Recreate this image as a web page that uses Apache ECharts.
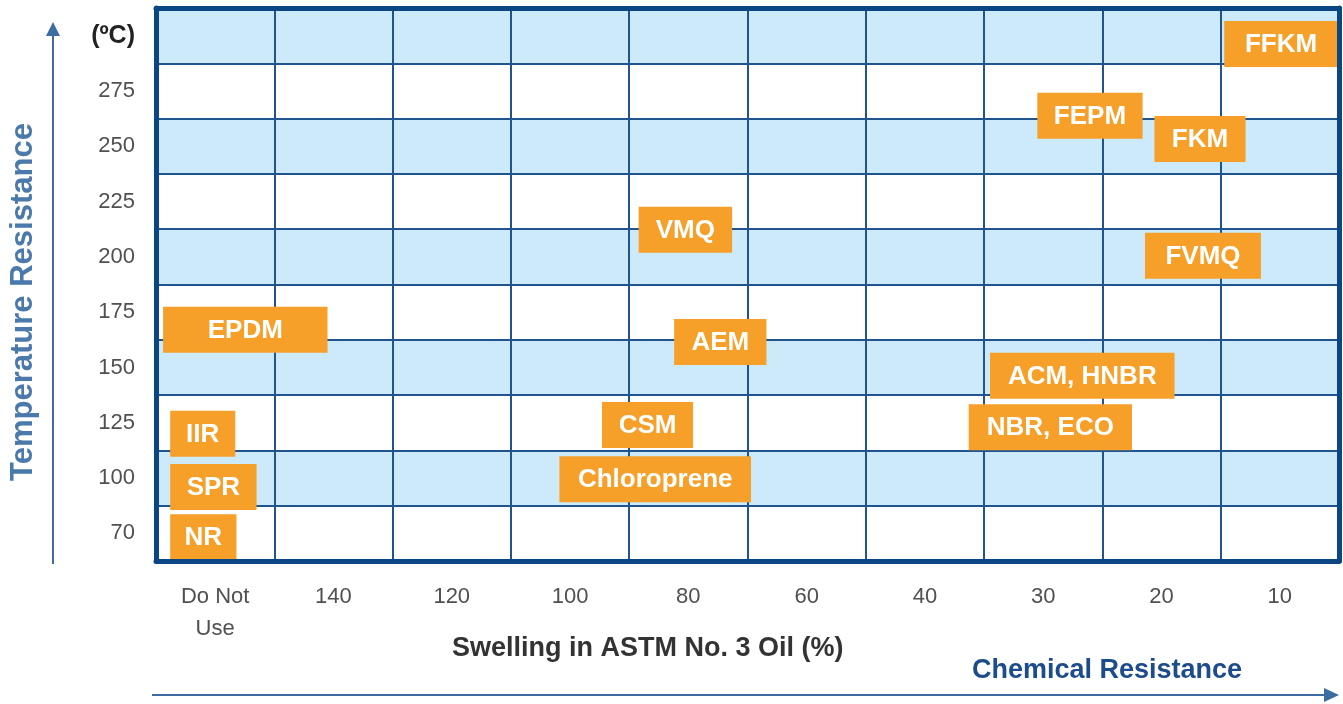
<!DOCTYPE html>
<html>
<head>
<meta charset="utf-8">
<title>Elastomer temperature vs chemical resistance</title>
<script src="https://cdn.jsdelivr.net/npm/echarts@6/dist/echarts.min.js"></script>
<style>
  html, body { margin: 0; padding: 0; background: #fff; }
  #chart { width: 1343px; height: 704px; }
</style>
</head>
<body>
<div id="chart"></div>
<script>
// column labels (swelling %), left to right
const swellLabels = ['Do Not\nUse', '140', '120', '100', '80', '60', '40', '30', '20', '10']
// row labels (temperature), bottom to top
const tempLabels = ['70', '100', '125', '150', '175', '200', '225', '250', '275', '(ºC)']

// materials, placed in column / row units of the grid above
const materials = ['FFKM', 'FEPM', 'FKM', 'FVMQ', 'VMQ', 'AEM', 'CSM', 'Chloroprene',
  'ACM, HNBR', 'NBR, ECO', 'EPDM', 'IIR', 'SPR', 'NR']
const swellFrom = [9.03, 7.45, 8.44, 8.36, 4.08, 4.38, 3.77, 3.41, 7.05, 6.87, 0.06, 0.12, 0.12, 0.12]
const swellTo = [9.99, 8.34, 9.21, 9.34, 4.87, 5.16, 4.54, 5.03, 8.61, 8.25, 1.45, 0.67, 0.85, 0.68]
const tempLevel = [9.35, 8.05, 7.63, 5.52, 5.99, 3.96, 2.46, 1.48, 3.35, 2.42, 4.18, 2.30, 1.34, 0.43]

const FONT = "'Liberation Sans', Arial, sans-serif"
const gridLine = '#1f548f'
const border = '#0a4584'
const arrowBlue = '#3b6ca3'
const orange = '#f69f29'

const chart = echarts.init(document.getElementById('chart'))

function borderAxis(position) {
  return {
    type: 'value', min: 0, max: 10, position, z: 10,
    axisLine: { show: true, onZero: false, lineStyle: { color: border, width: 5 } },
    axisTick: { show: false }, axisLabel: { show: false }, splitLine: { show: false }
  }
}

chart.setOption({
  animation: false,
  grid: { left: 156, right: 4, top: 8, bottom: 143 },
  title: [
    {
      text: 'Swelling in ASTM No. 3 Oil (%)', left: 452, top: 634, padding: 0,
      textStyle: { fontFamily: FONT, fontSize: 27, fontWeight: 'bold', color: '#333', lineHeight: 30 }
    },
    {
      text: 'Chemical Resistance', left: 972, top: 656, padding: 0,
      textStyle: { fontFamily: FONT, fontSize: 27, fontWeight: 'bold', color: '#1c4c8c', lineHeight: 30 }
    }
  ],
  xAxis: [
    {
      type: 'value', min: 0, max: 10, interval: 1, position: 'bottom',
      axisLine: { show: false, onZero: false }, axisTick: { show: false }, axisLabel: { show: false },
      splitLine: { show: true, lineStyle: { color: gridLine, width: 2 } }
    },
    {
      type: 'category', data: swellLabels, position: 'bottom', boundaryGap: true,
      axisLine: { show: false, onZero: false }, axisTick: { show: false }, splitLine: { show: false },
      axisLabel: { margin: 20, fontFamily: FONT, fontSize: 22, color: '#505050', lineHeight: 32, interval: 0 }
    },
    borderAxis('bottom'),
    borderAxis('top')
  ],
  yAxis: [
    {
      type: 'value', min: 0, max: 10, interval: 1, position: 'left',
      axisLine: { show: false, onZero: false }, axisTick: { show: false }, axisLabel: { show: false },
      splitLine: { show: true, lineStyle: { color: gridLine, width: 2 } },
      splitArea: { show: true, areaStyle: { color: ['#ffffff', '#cdeafb'] } }
    },
    {
      type: 'category', position: 'left', boundaryGap: true,
      data: tempLabels.map((t, i) => i === tempLabels.length - 1
        ? { value: t, textStyle: { fontWeight: 'bold', fontSize: 25, color: '#222' } }
        : t),
      axisLine: { show: false, onZero: false }, axisTick: { show: false }, splitLine: { show: false },
      axisLabel: { margin: 21, fontFamily: FONT, fontSize: 22, color: '#505050', interval: 0, padding: [5, 0, 0, 0] }
    },
    borderAxis('left'),
    borderAxis('right')
  ],
  graphic: [
    { type: 'line', shape: { x1: 53, y1: 564, x2: 53, y2: 30 }, style: { stroke: arrowBlue, lineWidth: 2 } },
    { type: 'polygon', shape: { points: [[53, 22], [46, 36], [60, 36]] }, style: { fill: arrowBlue } },
    { type: 'line', shape: { x1: 152, y1: 695, x2: 1330, y2: 695 }, style: { stroke: arrowBlue, lineWidth: 2 } },
    { type: 'polygon', shape: { points: [[1339, 695], [1324, 688], [1324, 702]] }, style: { fill: arrowBlue } },
    {
      type: 'text', x: 23, y: 302, rotation: Math.PI / 2,
      style: {
        text: 'Temperature Resistance', align: 'center', verticalAlign: 'middle',
        font: 'bold 31px ' + FONT, fill: '#4a79ab'
      }
    }
  ],
  series: [
    {
      type: 'custom',
      xAxisIndex: 0,
      yAxisIndex: 0,
      clip: true,
      z: 5,
      data: materials.map((m, i) => [i, swellFrom[i], swellTo[i], tempLevel[i]]),
      renderItem(params, api) {
        const a = api.coord([api.value(1), api.value(3)])
        const b = api.coord([api.value(2), api.value(3)])
        const h = 46
        return {
          type: 'group',
          children: [
            {
              type: 'rect',
              shape: { x: a[0], y: a[1] - h / 2, width: b[0] - a[0], height: h },
              style: { fill: orange }
            },
            {
              type: 'text',
              style: {
                text: materials[api.value(0)],
                x: (a[0] + b[0]) / 2, y: a[1] + 1,
                align: 'center', verticalAlign: 'middle',
                font: 'bold 26px ' + FONT, fill: '#fff'
              }
            }
          ]
        }
      }
    }
  ]
})
</script>
</body>
</html>
